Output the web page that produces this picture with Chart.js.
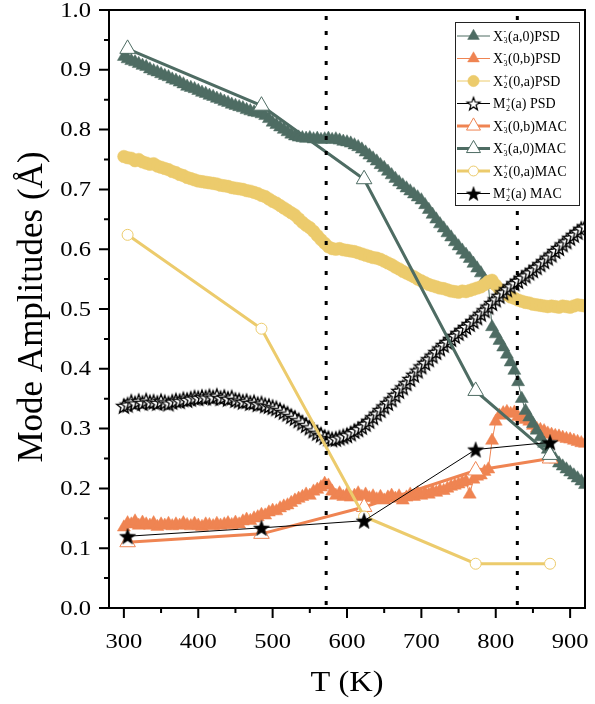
<!DOCTYPE html>
<html lang="en">
<head>
<meta charset="UTF-8">
<title>Mode Amplitudes</title>
<script src="https://cdn.jsdelivr.net/npm/chart.js"></script>
<style>
    body { margin: 0; background: #fff; }
    canvas { display: block; }
</style>
</head>
<body>
<canvas id="modeChart" width="595" height="704"></canvas>
<script>
// PSD temperatures (K)
const psdT = [
    300, 305, 310, 315, 320, 325, 330, 335, 340, 345,
    350, 355, 360, 365, 370, 375, 380, 385, 390, 395,
    400, 405, 410, 415, 420, 425, 430, 435, 440, 445,
    450, 455, 460, 465, 470, 475, 480, 485, 490, 495,
    500, 505, 510, 515, 520, 525, 530, 535, 540, 545,
    550, 555, 560, 565, 570, 575, 580, 585, 590, 595,
    600, 605, 610, 615, 620, 625, 630, 635, 640, 645,
    650, 655, 660, 665, 670, 675, 680, 685, 690, 695,
    700, 705, 710, 715, 720, 725, 730, 735, 740, 745,
    750, 755, 760, 765, 770, 775, 780, 785, 790, 795,
    800, 805, 810, 815, 820, 825, 830, 835, 840, 845,
    850, 855, 860, 865, 870, 875, 880, 885, 890, 895,
    900, 905, 910, 915, 920
];
// X3-(a,0) PSD
const x3a0Psd = [
    .922, .918, .915, .913, .910, .907, .905, .901, .898, .896,
    .893, .890, .888, .884, .882, .879, .876, .872, .870, .868,
    .865, .862, .860, .857, .855, .852, .850, .847, .845, .842,
    .840, .838, .836, .833, .831, .829, .828, .826, .823, .818,
    .812, .808, .804, .800, .796, .792, .789, .787, .786, .785,
    .786, .784, .785, .783, .784, .785, .783, .784, .782, .780,
    .779, .777, .774, .771, .767, .762, .757, .752, .747, .741,
    .736, .730, .724, .718, .712, .707, .702, .697, .692, .687,
    .682, .674, .666, .658, .650, .642, .635, .627, .620, .612,
    .605, .598, .591, .584, .576, .568, .560, .550, .541, .470,
    .458, .447, .436, .424, .411, .397, .378, .350, .330, .319,
    .308, .297, .286, .275, .265, .256, .249, .242, .237, .232,
    .227, .222, .217, .212, .206
];
// X3-(0,b) PSD
const x30bPsd = [
    .135, .142, .140, .145, .138, .143, .140, .138, .142, .136,
    .140, .138, .141, .137, .140, .138, .142, .139, .137, .141,
    .138, .136, .140, .139, .137, .141, .138, .140, .142, .139,
    .143, .140, .145, .148, .146, .150, .152, .156, .155, .160,
    .163, .162, .167, .170, .172, .176, .180, .183, .186, .190,
    .188, .195, .198, .202, .208, .205, .195, .188, .192, .186,
    .190, .185, .188, .192, .186, .190, .184, .187, .182, .186,
    .180, .185, .188, .183, .187, .180, .185, .190, .186, .192,
    .188, .192, .190, .195, .193, .197, .196, .200, .203, .205,
    .207, .210, .212, .190, .215, .220, .222, .228, .232, .280,
    .312, .322, .326, .328, .325, .327, .320, .318, .315, .312,
    .305, .300, .298, .296, .292, .290, .288, .287, .285, .283,
    .282, .280, .278, .276, .275
];
// X2+(0,a) PSD
const x20aPsd = [
    .755, .753, .752, .748, .750, .746, .744, .742, .743, .739,
    .737, .735, .733, .730, .728, .725, .723, .720, .718, .716,
    .714, .713, .712, .711, .710, .709, .707, .706, .705, .703,
    .702, .701, .700, .698, .697, .695, .693, .690, .688, .684,
    .680, .677, .673, .669, .665, .661, .657, .651, .645, .640,
    .636, .630, .623, .616, .610, .604, .601, .600, .601, .599,
    .598, .597, .596, .594, .592, .590, .588, .586, .585, .583,
    .580, .577, .574, .570, .567, .563, .560, .557, .554, .550,
    .547, .544, .541, .539, .537, .535, .534, .532, .530, .529,
    .528, .530, .529, .531, .533, .535, .537, .541, .546, .548,
    .540, .533, .528, .524, .520, .518, .515, .513, .511, .510,
    .508, .507, .506, .505, .504, .505, .504, .503, .505, .504,
    .503, .505, .507, .506, .505
];
// M2+(a) PSD
const m2aPsd = [
    .338, .340, .345, .342, .346, .343, .347, .344, .345, .343,
    .346, .344, .342, .345, .347, .346, .349, .348, .350, .352,
    .351, .353, .352, .354, .352, .355, .351, .353, .350, .352,
    .348, .347, .345, .346, .343, .344, .341, .342, .339, .338,
    .336, .334, .331, .328, .325, .321, .318, .314, .310, .306,
    .302, .297, .293, .290, .286, .284, .282, .283, .285, .287,
    .289, .292, .296, .299, .303, .308, .313, .319, .325, .331,
    .337, .343, .349, .356, .363, .369, .376, .383, .390, .397,
    .404, .410, .416, .422, .428, .434, .440, .445, .450, .455,
    .460, .465, .470, .475, .480, .486, .492, .498, .504, .510,
    .516, .522, .528, .533, .538, .543, .547, .552, .556, .561,
    .565, .570, .575, .580, .586, .591, .597, .602, .608, .613,
    .619, .624, .629, .634, .638
];

// MAC temperatures (K) and amplitudes
const macT = [305, 485, 623, 773, 873];
const x30bMac = [0.110, 0.124, 0.169, 0.230, 0.250];
const x3a0Mac = [0.935, 0.840, 0.717, 0.363, 0.256];
const x20aMac = [0.624, 0.467, 0.153, 0.074, 0.074];
const m2aMac = [0.120, 0.134, 0.146, 0.265, 0.277];

// transition temperatures (dotted lines)
const transitions = [572, 829];

const xTicks = [300, 400, 500, 600, 700, 800, 900];
const xMinor = [350, 450, 550, 650, 750, 850];
const yTicks = [0, 0.1, 0.2, 0.3, 0.4, 0.5, 0.6, 0.7, 0.8, 0.9, 1.0];
const yMinor = [0.05, 0.15, 0.25, 0.35, 0.45, 0.55, 0.65, 0.75, 0.85, 0.95];

const xTitle = 'T (K)';
const yTitle = 'Mode Amplitudes (Å)';

// legend labels: base, subscript, superscript, rest
const legendNames = [
    ['X', '3', '-', '(a,0)PSD'],
    ['X', '3', '-', '(0,b)PSD'],
    ['X', '2', '+', '(0,a)PSD'],
    ['M', '2', '+', '(a) PSD'],
    ['X', '3', '-', '(0,b)MAC'],
    ['X', '3', '-', '(a,0)MAC'],
    ['X', '2', '+', '(0,a)MAC'],
    ['M', '2', '+', '(a) MAC']
];

const green = '#4e6c63';
const orange = '#ef8452';
const yellow = '#eccb6c';
const serif = '"Liberation Serif", "Times New Roman", serif';

function starMarker(r, fill, stroke, lw) {
    const c = document.createElement('canvas');
    const s = Math.ceil(r * 2 + lw * 2 + 2);
    c.width = s;
    c.height = s;
    const g = c.getContext('2d');
    g.beginPath();
    for (let i = 0; i < 10; i++) {
        const a = -Math.PI / 2 + i * Math.PI / 5;
        const rr = i % 2 ? r * 0.42 : r;
        g.lineTo(s / 2 + rr * Math.cos(a), s / 2 + rr * Math.sin(a) + r * 0.1);
    }
    g.closePath();
    g.fillStyle = fill;
    g.fill();
    g.lineWidth = lw;
    g.strokeStyle = stroke;
    g.stroke();
    return c;
}

const openStar = starMarker(7.5, '#fff', '#000', 1.35);
const solidStar = starMarker(8.5, '#000', '#000', 0.5);

function pts(xs, ys) {
    return xs.map((x, i) => ({ x: x, y: ys[i] }));
}

// datasets in legend order; "order" sets stacking (lower = on top)
const datasets = [
    { data: pts(psdT, x3a0Psd), borderColor: green, borderWidth: 1, pointStyle: 'triangle', pointRadius: 7.5,
      pointBackgroundColor: green, pointBorderColor: green, pointBorderWidth: 0.5, order: 6 },
    { data: pts(psdT, x30bPsd), borderColor: orange, borderWidth: 1, pointStyle: 'triangle', pointRadius: 7.5,
      pointBackgroundColor: orange, pointBorderColor: orange, pointBorderWidth: 0.5, order: 7 },
    { data: pts(psdT, x20aPsd), borderColor: yellow, borderWidth: 1, pointStyle: 'circle', pointRadius: 6.3,
      pointBackgroundColor: yellow, pointBorderColor: yellow, pointBorderWidth: 0.5, order: 5 },
    { data: pts(psdT, m2aPsd), borderColor: '#000', borderWidth: 1, pointStyle: openStar, pointRadius: 7.5,
      pointBackgroundColor: '#fff', pointBorderColor: '#000', pointBorderWidth: 1.35, order: 4 },
    { data: pts(macT, x30bMac), borderColor: orange, borderWidth: 3, pointStyle: 'triangle', pointRadius: 9,
      pointBackgroundColor: '#fff', pointBorderColor: orange, pointBorderWidth: 1, order: 3 },
    { data: pts(macT, x3a0Mac), borderColor: green, borderWidth: 3, pointStyle: 'triangle', pointRadius: 9,
      pointBackgroundColor: '#fff', pointBorderColor: green, pointBorderWidth: 1, order: 2 },
    { data: pts(macT, x20aMac), borderColor: yellow, borderWidth: 3, pointStyle: 'circle', pointRadius: 5.5,
      pointBackgroundColor: '#fff', pointBorderColor: yellow, pointBorderWidth: 1, order: 1 },
    { data: pts(macT, m2aMac), borderColor: '#000', borderWidth: 1, pointStyle: solidStar, pointRadius: 8.5,
      pointBackgroundColor: '#000', pointBorderColor: '#000', pointBorderWidth: 0.5, order: 0 }
];
datasets.forEach((d, i) => {
    d.label = legendNames[i].join('');
    d.tension = 0;
    d.fill = false;
});

function drawMarker(ctx, ds, x, y, k) {
    const st = ds.pointStyle;
    const r = ds.pointRadius * k;
    if (typeof st === 'object') {
        const w = st.width * k, h = st.height * k;
        ctx.drawImage(st, x - w / 2, y - h / 2, w, h);
        return;
    }
    ctx.beginPath();
    if (st === 'circle') {
        ctx.arc(x, y, r, 0, Math.PI * 2);
    } else {
        ctx.moveTo(x, y - r);
        ctx.lineTo(x + 0.866 * r, y + 0.5 * r);
        ctx.lineTo(x - 0.866 * r, y + 0.5 * r);
        ctx.closePath();
    }
    ctx.fillStyle = ds.pointBackgroundColor;
    ctx.fill();
    ctx.lineWidth = ds.pointBorderWidth;
    ctx.strokeStyle = ds.pointBorderColor;
    ctx.stroke();
}

// text stretched horizontally like the original figure
function wideText(ctx, text, x, y, sx) {
    ctx.save();
    ctx.translate(x, y);
    ctx.scale(sx, 1);
    ctx.fillText(text, 0, 0);
    ctx.restore();
}

// dotted lines, frame, tick marks, labels and the legend box
const decor = {
    id: 'decor',
    afterDatasetsDraw(chart) {
        const ctx = chart.ctx;
        const a = chart.chartArea;
        const xs = chart.scales.x;
        ctx.save();
        ctx.strokeStyle = '#000';
        ctx.lineWidth = 3;
        ctx.setLineDash([4, 11]);
        transitions.forEach(t => {
            const px = xs.getPixelForValue(t);
            ctx.beginPath();
            ctx.moveTo(px, a.top + 6);
            ctx.lineTo(px, a.bottom);
            ctx.stroke();
        });
        ctx.restore();
    },
    afterDraw(chart) {
        const ctx = chart.ctx;
        const a = chart.chartArea;
        const xs = chart.scales.x;
        const ys = chart.scales.y;
        ctx.save();
        ctx.strokeStyle = '#000';
        ctx.lineWidth = 2;
        ctx.strokeRect(a.left, a.top, a.right - a.left, a.bottom - a.top);
        ctx.beginPath();
        xTicks.forEach(v => { const p = xs.getPixelForValue(v); ctx.moveTo(p, a.bottom); ctx.lineTo(p, a.bottom + 10); });
        xMinor.forEach(v => { const p = xs.getPixelForValue(v); ctx.moveTo(p, a.bottom); ctx.lineTo(p, a.bottom + 5); });
        yTicks.forEach(v => { const p = ys.getPixelForValue(v); ctx.moveTo(a.left, p); ctx.lineTo(a.left - 10, p); });
        yMinor.forEach(v => { const p = ys.getPixelForValue(v); ctx.moveTo(a.left, p); ctx.lineTo(a.left - 5, p); });
        ctx.stroke();

        // tick labels and axis titles
        ctx.fillStyle = '#000';
        ctx.font = '21px ' + serif;
        ctx.textBaseline = 'alphabetic';
        ctx.textAlign = 'center';
        xTicks.forEach(v => wideText(ctx, String(v), xs.getPixelForValue(v), a.bottom + 40, 1.17));
        ctx.textAlign = 'right';
        ctx.textBaseline = 'middle';
        yTicks.forEach(v => wideText(ctx, v.toFixed(1), a.left - 18, ys.getPixelForValue(v) + 1, 1.17));
        ctx.font = '30px ' + serif;
        ctx.textAlign = 'center';
        ctx.textBaseline = 'alphabetic';
        wideText(ctx, xTitle, (a.left + a.right) / 2, a.bottom + 83, 1.08);
        ctx.save();
        ctx.translate(33, (a.top + a.bottom) / 2 - 2);
        ctx.rotate(-Math.PI / 2);
        ctx.font = '35px ' + serif;
        ctx.textBaseline = 'middle';
        ctx.fillText(yTitle, 0, 0);
        ctx.restore();

        // legend
        const bw = 124, bh = 183;
        const bx = a.right - 6 - bw, by = a.top + 12;
        ctx.fillStyle = '#fff';
        ctx.fillRect(bx, by, bw, bh);
        ctx.lineWidth = 1;
        ctx.strokeStyle = '#222';
        ctx.strokeRect(bx + 0.5, by + 0.5, bw, bh);
        chart.data.datasets.forEach((ds, i) => {
            const y = by + 14 + i * 22.5;
            ctx.strokeStyle = ds.borderColor;
            ctx.lineWidth = ds.borderWidth;
            ctx.beginPath();
            ctx.moveTo(bx + 2, y);
            ctx.lineTo(bx + 35, y);
            ctx.stroke();
            drawMarker(ctx, ds, bx + 18.5, y, 0.9);

            const [base, sub, sup, rest] = legendNames[i];
            const bl = y + 4.5;
            let tx = bx + 38;
            ctx.fillStyle = '#000';
            ctx.textBaseline = 'alphabetic';
            ctx.textAlign = 'left';
            ctx.font = '14px ' + serif;
            ctx.fillText(base, tx, bl);
            tx += ctx.measureText(base).width + 0.5;
            ctx.font = '8px ' + serif;
            ctx.fillText(sup, tx, bl - 6.5);
            ctx.fillText(sub, tx, bl + 2.5);
            tx += Math.max(ctx.measureText(sup).width, ctx.measureText(sub).width) + 0.5;
            ctx.font = '14px ' + serif;
            ctx.fillText(rest, tx, bl);
        });
        ctx.restore();
    }
};

new Chart(document.getElementById('modeChart'), {
    type: 'line',
    data: { datasets: datasets },
    options: {
        responsive: false,
        animation: false,
        devicePixelRatio: 1,
        layout: { padding: { left: 0, right: 3, top: 9, bottom: 0 } },
        plugins: {
            legend: { display: false },
            tooltip: { enabled: false }
        },
        scales: {
            x: {
                type: 'linear',
                min: 280,
                max: 920,
                afterBuildTicks: s => { s.ticks = xTicks.map(v => ({ value: v })); },
                afterFit: s => { s.height = 96; s.paddingLeft = 0; s.paddingRight = 0; },
                grid: { display: false, drawTicks: false },
                border: { display: false },
                ticks: { display: false }
            },
            y: {
                min: 0,
                max: 1,
                afterBuildTicks: s => { s.ticks = yTicks.map(v => ({ value: v })); },
                afterFit: s => { s.width = 109; s.paddingTop = 0; s.paddingBottom = 0; },
                grid: { display: false, drawTicks: false },
                border: { display: false },
                ticks: { display: false }
            }
        }
    },
    plugins: [decor]
});
</script>
</body>
</html>
